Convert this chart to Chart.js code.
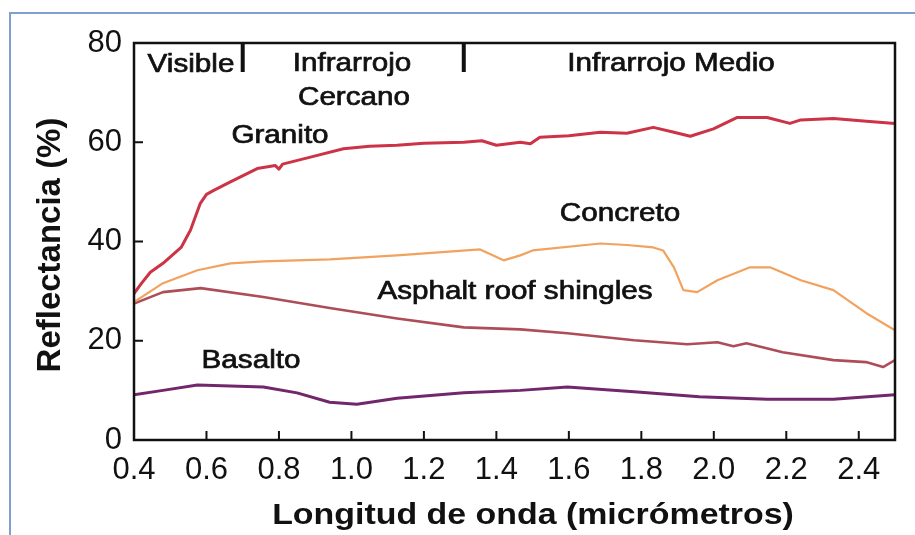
<!DOCTYPE html>
<html><head><meta charset="utf-8">
<script src="https://cdn.jsdelivr.net/npm/chart.js@4"></script>
<style>html,body{margin:0;padding:0;background:#fff}#wrap{width:915px;height:535px;position:relative}</style>
</head><body><div id="wrap"><canvas id="c" width="915" height="535"></canvas></div>
<script>
// ---- data (wavelength in micrometres, reflectance in %) ----
const granitoX = [0.40,0.42,0.445,0.48,0.53,0.556,0.583,0.60,0.62,0.666,0.74,0.79,0.80,0.81,0.887,0.978,1.05,1.126,1.20,1.31,1.36,1.40,1.466,1.494,1.52,1.60,1.687,1.76,1.833,1.89,1.935,1.999,2.065,2.147,2.21,2.24,2.33,2.43,2.50];
const granitoY = [29.5,31.5,33.8,35.6,38.8,42.3,47.7,49.5,50.3,52.0,54.7,55.3,54.6,55.6,57.0,58.7,59.2,59.4,59.8,60.0,60.3,59.4,60.0,59.7,61.0,61.3,62.0,61.8,63.0,62.0,61.2,62.7,65.0,65.0,63.8,64.5,64.8,64.2,63.8];
const concretoX = [0.40,0.48,0.575,0.666,0.757,0.94,1.126,1.355,1.42,1.466,1.50,1.687,1.76,1.833,1.86,1.89,1.916,1.954,2.01,2.10,2.155,2.24,2.33,2.42,2.50];
const concretoY = [27.8,31.6,34.2,35.6,36.0,36.4,37.2,38.4,36.2,37.2,38.2,39.6,39.3,38.8,38.2,34.8,30.2,29.8,32.2,34.8,34.8,32.2,30.2,25.6,22.1];
const asphaltX = [0.40,0.48,0.584,0.757,0.94,1.126,1.31,1.466,1.596,1.78,1.927,2.01,2.054,2.09,2.19,2.33,2.42,2.467,2.50];
const asphaltY = [27.5,29.8,30.6,28.8,26.6,24.5,22.7,22.3,21.5,20.1,19.3,19.7,18.9,19.5,17.7,16.1,15.7,14.7,16.1];
const basaltoX = [0.40,0.48,0.575,0.757,0.85,0.94,1.015,1.126,1.31,1.466,1.596,1.78,1.96,2.147,2.33,2.50];
const basaltoY = [9.1,10.0,11.1,10.7,9.5,7.6,7.2,8.4,9.5,10.0,10.7,9.7,8.7,8.2,8.2,9.1];
const xTickValues = [0.4,0.6,0.8,1.0,1.2,1.4,1.6,1.8,2.0,2.2,2.4];
const yTickValues = [0,20,40,60,80];
const regionBounds = [0.70,1.31];
const regionNames = ['Visible','Infrarrojo','Cercano','Infrarrojo Medio'];
const seriesNames = ['Granito','Concreto','Asphalt roof shingles','Basalto'];
const xTitle = 'Longitud de onda (micrómetros)';
const yTitle = 'Reflectancia (%)';

const pts = (xs, ys) => xs.map((x, i) => ({x, y: ys[i]}));
const FONT = "'Liberation Sans', Arial, Helvetica, sans-serif";

function wideText(ctx, text, cx, by, sx) {
  ctx.save();
  ctx.translate(cx, by);
  ctx.scale(sx, 1);
  ctx.fillText(text, 0, 0);
  ctx.strokeText(text, 0, 0);
  ctx.restore();
}

const decor = {
  id: 'decor',
  beforeDraw(chart) {
    const ctx = chart.ctx;
    ctx.save();
    ctx.fillStyle = '#fff';
    ctx.fillRect(0, 0, 915, 535);
    ctx.strokeStyle = '#7f9fd3';
    ctx.lineWidth = 2;
    ctx.beginPath();
    ctx.moveTo(10, 535); ctx.lineTo(10, 13); ctx.lineTo(915, 13);
    ctx.stroke();
    ctx.restore();
  },
  afterDraw(chart) {
    const ctx = chart.ctx, a = chart.chartArea;
    const xs = chart.scales.x, ys = chart.scales.y;
    ctx.save();
    ctx.strokeStyle = '#111';
    ctx.lineWidth = 2.5;
    ctx.strokeRect(a.left, a.top, a.right - a.left, a.bottom - a.top);
    ctx.lineWidth = 2;
    ctx.beginPath();
    xTickValues.forEach(v => { const px = xs.getPixelForValue(v); ctx.moveTo(px, a.bottom); ctx.lineTo(px, a.bottom - 9); });
    yTickValues.forEach(v => { const py = ys.getPixelForValue(v); ctx.moveTo(a.left, py); ctx.lineTo(a.left + 9, py); });
    ctx.stroke();
    // region separators
    ctx.lineWidth = 4;
    ctx.beginPath();
    regionBounds.forEach(v => { const px = xs.getPixelForValue(v); ctx.moveTo(px, a.top); ctx.lineTo(px, a.top + 29); });
    ctx.stroke();
    // region names + series labels
    ctx.fillStyle = '#111';
    ctx.strokeStyle = '#111';
    ctx.lineWidth = 0.7;
    ctx.textAlign = 'center';
    ctx.textBaseline = 'alphabetic';
    ctx.font = '26px ' + FONT;
    const sx = 1.14;
    wideText(ctx, regionNames[0], 191, 72, sx);
    wideText(ctx, regionNames[1], 352, 71, sx);
    wideText(ctx, regionNames[2], 354, 105, sx);
    wideText(ctx, regionNames[3], 671, 71, sx);
    wideText(ctx, seriesNames[0], 280, 143, sx);
    wideText(ctx, seriesNames[1], 620, 221, sx);
    wideText(ctx, seriesNames[2], 515, 299, sx);
    wideText(ctx, seriesNames[3], 251, 368, sx);
    // axis titles
    ctx.lineWidth = 0;
    ctx.font = 'bold 30px ' + FONT;
    ctx.textBaseline = 'middle';
    ctx.save();
    ctx.translate(533, 516); ctx.scale(1.13, 1); ctx.fillText(xTitle, 0, 0);
    ctx.restore();
    ctx.font = 'bold 33px ' + FONT;
    ctx.translate(51, 245);
    ctx.rotate(-Math.PI / 2);
    ctx.fillText(yTitle, 0, 0);
    ctx.restore();
  }
};

new Chart(document.getElementById('c'), {
  type: 'line',
  data: {
    datasets: [
      {label: seriesNames[0], data: pts(granitoX, granitoY), borderColor: '#cc3346', borderWidth: 3},
      {label: seriesNames[1], data: pts(concretoX, concretoY), borderColor: '#f2a25f', borderWidth: 2.2},
      {label: seriesNames[2], data: pts(asphaltX, asphaltY), borderColor: '#ad4d58', borderWidth: 2.6},
      {label: seriesNames[3], data: pts(basaltoX, basaltoY), borderColor: '#72276c', borderWidth: 3}
    ].map(d => Object.assign(d, {pointRadius: 0, tension: 0, fill: false, borderJoinStyle: 'round'}))
  },
  options: {
    responsive: false, animation: false, devicePixelRatio: 1,
    layout: {padding: {top: 43, right: 20, left: 0, bottom: 0}},
    plugins: {legend: {display: false}, tooltip: {enabled: false}},
    scales: {
      x: {
        type: 'linear', min: 0.4, max: 2.5,
        afterFit: s => { s.height = 95; },
        afterBuildTicks: s => { s.ticks = xTickValues.map(v => ({value: v})); },
        grid: {display: false, drawTicks: false}, border: {display: false},
        ticks: {color: '#111', font: {family: FONT, size: 31}, padding: 12, maxRotation: 0, autoSkip: false,
                callback: v => Number(v).toFixed(1)}
      },
      y: {
        min: 0, max: 80,
        afterFit: s => { s.width = 134; },
        afterBuildTicks: s => { s.ticks = yTickValues.map(v => ({value: v})); },
        grid: {display: false, drawTicks: false}, border: {display: false},
        ticks: {color: '#111', font: {family: FONT, size: 31}, padding: 12}
      }
    }
  },
  plugins: [decor]
});
</script></body></html>
